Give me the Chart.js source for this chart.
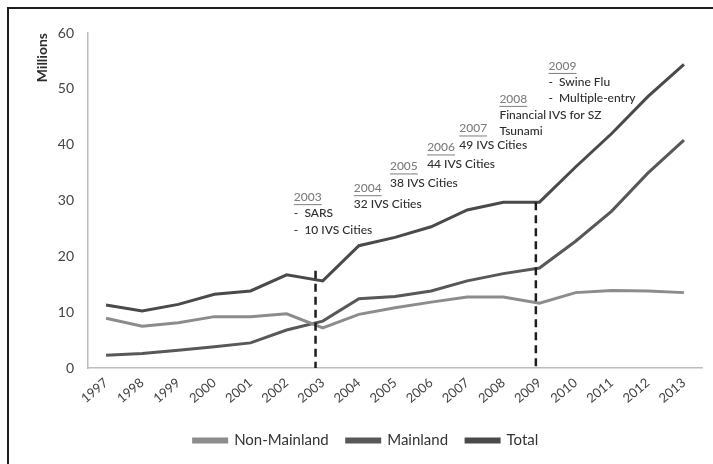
<!DOCTYPE html>
<html>
<head>
<meta charset="utf-8">
<script src="https://cdn.jsdelivr.net/npm/chart.js@4"></script>
<style>
    html, body { margin: 0; padding: 0; background: #fff; overflow: hidden; }
    #wrap { position: relative; width: 713px; height: 464px; }
    #frame { position: absolute; left: 7px; top: 7px; width: 730px; height: 480px; border: 2px solid #1e1e1e; }
    canvas { position: absolute; left: 0; top: 0; }
</style>
</head>
<body>
<div id="wrap">
    <div id="frame"></div>
    <canvas id="chart" width="713" height="464"></canvas>
</div>
<script>
const years = ['1997', '1998', '1999', '2000', '2001', '2002', '2003', '2004', '2005',
    '2006', '2007', '2008', '2009', '2010', '2011', '2012', '2013'];
const nonMainland = [8.9, 7.5, 8.1, 9.2, 9.2, 9.7, 7.2, 9.6, 10.8, 11.8, 12.7, 12.7, 11.6, 13.5, 13.9, 13.8, 13.5];
const mainland = [2.3, 2.6, 3.2, 3.8, 4.5, 6.8, 8.4, 12.4, 12.8, 13.8, 15.6, 16.9, 17.9, 22.7, 28.1, 34.9, 40.8];
const total = [11.3, 10.2, 11.4, 13.2, 13.8, 16.7, 15.6, 21.9, 23.4, 25.3, 28.3, 29.7, 29.7, 36.0, 42.0, 48.6, 54.4];
const yTicks = [0, 10, 20, 30, 40, 50, 60];

// dashed event markers: [category position, top value]
const eventMarks = [[5.8, 17.4], [11.9, 29.7]];

// notes: year, lines, anchor (category position, value of first line)
const notes = [
    { year: '2003', lines: ['-  SARS', '-  10 IVS Cities'], x: 5.2, y: 30.6 },
    { year: '2004', lines: ['32 IVS Cities'], x: 6.86, y: 32.2 },
    { year: '2005', lines: ['38 IVS Cities'], x: 7.86, y: 36.1 },
    { year: '2006', lines: ['44 IVS Cities'], x: 8.89, y: 39.5 },
    { year: '2007', lines: ['49 IVS Cities'], x: 9.78, y: 42.9 },
    { year: '2008', lines: ['Financial', 'Tsunami'], x: 10.89, y: 48.2 },
    { year: '2009', lines: ['-  Swine Flu', '-  Multiple-entry', 'IVS for SZ'], x: 12.25, y: 54.1 }
];

const fontFamily = 'Lato, "Open Sans", sans-serif';

const eventPlugin = {
    id: 'events',
    afterDatasetsDraw(chart) {
        const ctx = chart.ctx;
        const x = chart.scales.x;
        const y = chart.scales.y;
        ctx.save();
        ctx.strokeStyle = '#1e1e1e';
        ctx.lineWidth = 2.5;
        ctx.setLineDash([8, 5]);
        eventMarks.forEach(m => {
            const px = x.getPixelForValue(m[0]);
            ctx.beginPath();
            ctx.moveTo(px, y.getPixelForValue(m[1]));
            ctx.lineTo(px, y.getPixelForValue(0));
            ctx.stroke();
        });
        ctx.setLineDash([]);

        ctx.font = '500 12px ' + fontFamily;
        ctx.textBaseline = 'middle';
        ctx.textAlign = 'left';
        notes.forEach(n => {
            const px = x.getPixelForValue(n.x);
            let py = y.getPixelForValue(n.y);
            ctx.fillStyle = '#7e7e7e';
            ctx.fillText(n.year, px, py);
            const w = ctx.measureText(n.year).width;
            ctx.strokeStyle = '#7e7e7e';
            ctx.lineWidth = 1;
            ctx.beginPath();
            ctx.moveTo(px, py + 7.5);
            ctx.lineTo(px + w, py + 7.5);
            ctx.stroke();
            ctx.fillStyle = '#2e2e2e';
            n.lines.forEach(line => {
                py += 16.3;
                ctx.fillText(line, px, py);
            });
        });
        ctx.restore();
    }
};

const ctx = document.getElementById('chart').getContext('2d');
new Chart(ctx, {
    type: 'line',
    data: {
        labels: years,
        datasets: [
            { label: 'Non-Mainland', data: nonMainland, borderColor: '#8c8c8c', backgroundColor: '#8c8c8c' },
            { label: 'Mainland', data: mainland, borderColor: '#585858', backgroundColor: '#585858' },
            { label: 'Total', data: total, borderColor: '#4a4a4a', backgroundColor: '#4a4a4a' }
        ]
    },
    options: {
        responsive: false,
        animation: false,
        elements: {
            line: { borderWidth: 3, tension: 0 },
            point: { radius: 0 }
        },
        layout: { padding: { top: 33, right: 11, left: 30, bottom: 6 } },
        scales: {
            x: {
                offset: true,
                grid: { display: false, drawTicks: false },
                border: { color: '#bdbdbd', width: 1.5 },
                ticks: {
                    color: '#444',
                    font: { family: fontFamily, size: 13 },
                    minRotation: 40,
                    maxRotation: 40,
                    padding: 7
                },
                afterFit(scale) { scale.height = 47; }
            },
            y: {
                min: 0,
                max: 60,
                afterBuildTicks(scale) { scale.ticks = yTicks.map(v => ({ value: v })); },
                grid: { display: false, drawTicks: false },
                border: { color: '#bdbdbd', width: 1.5 },
                ticks: {
                    color: '#444',
                    font: { family: fontFamily, size: 14 },
                    padding: 14
                },
                title: {
                    display: true,
                    text: 'Millions',
                    align: 'end',
                    color: '#2e2e2e',
                    font: { family: fontFamily, size: 14, weight: 'bold' },
                    padding: { top: 4, bottom: 0 }
                },
                afterFit(scale) { scale.width = 58; }
            }
        },
        plugins: {
            legend: {
                position: 'bottom',
                labels: {
                    color: '#333',
                    font: { family: fontFamily, size: 15 },
                    boxWidth: 33,
                    boxHeight: 3,
                    padding: 18
                }
            },
            tooltip: { enabled: false }
        }
    },
    plugins: [eventPlugin]
});
</script>
</body>
</html>
